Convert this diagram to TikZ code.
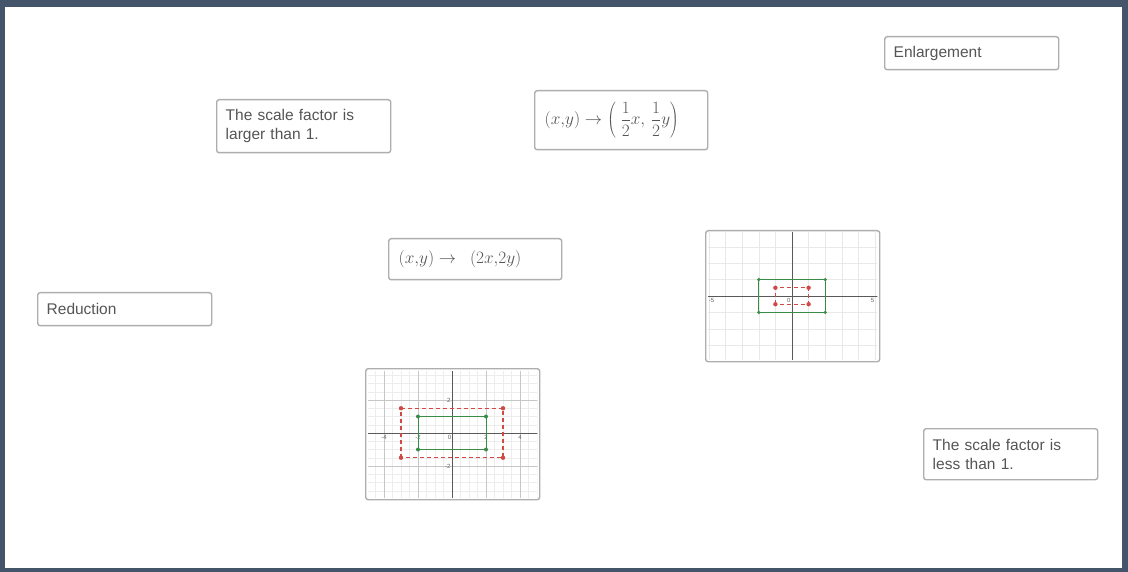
\documentclass[tikz,border=0pt]{standalone}
\usepackage[no-math]{fontspec}
\setmainfont{Liberation Sans}
\definecolor{frame}{HTML}{44546A}
\definecolor{bord}{HTML}{AEAEAE}
\definecolor{txt}{HTML}{555555}
\definecolor{dred}{HTML}{D04A45}
\definecolor{dgreen}{HTML}{388C46}
\begin{document}
\begin{tikzpicture}[x=1pt,y=-1pt,
  card/.style={draw=bord, line width=1.4pt, rounded corners=2.5pt, fill=white, anchor=north west},
  lblbox/.style={card, text=txt, font=\fontsize{15.5}{19}\selectfont, align=left, inner xsep=9pt, inner ysep=0pt, text width=156pt},
  mathbox/.style={card, text=txt, font=\fontsize{18.5}{22}\selectfont, align=left, inner xsep=10pt, inner ysep=0pt, text width=153pt},
  graphbox/.style={card, minimum width=174pt, minimum height=131pt, inner sep=0pt},
  minorgrid/.style={draw=black!7, line width=0.4pt},
  majorgrid/.style={draw=black!22, line width=0.5pt},
  axisline/.style={draw=black!65, line width=0.8pt},
  ticklbl/.style={text=black!60, font=\fontsize{6}{7}\selectfont, inner sep=0.5pt},
  redrect/.style={draw=dred, line width=1.2pt, dash pattern=on 4pt off 3pt},
  greenrect/.style={draw=dgreen, line width=1pt},
  rdot/.style={fill=dred},
  gdot/.style={fill=dgreen}]
% frame
\fill[frame] (0,0) rectangle (1128,572);
\fill[white] (5,7) rectangle (1122,568);
% text boxes
\node[lblbox, minimum height=33pt] (enl) at (884,36) {Enlargement};
\node[lblbox, minimum height=53pt] (larger) at (216,99) {The scale factor is\\larger than 1.};
\node[lblbox, minimum height=33pt] (red) at (37,292) {Reduction};
\node[lblbox, minimum height=51pt] (less) at (923,428) {The scale factor is\\less than 1.};
% formula boxes
\node[mathbox, minimum height=59pt] (fhalf) at (534,90) {$\displaystyle(x{,}y)\to\left(\;\frac{1}{2}x,\,\frac{1}{2}y\right)$};
\node[mathbox, minimum height=41pt] (fdouble) at (388,238) {$(x{,}y)\to\ \,(2x{,}2y)$};
% graph 1 (enlargement picture)
\node[graphbox] (g1) at (365,368) {};
\begin{scope}
\clip ([shift={(3pt,-3pt)}]g1.north west) rectangle ([shift={(-3pt,3pt)}]g1.south east);
\begin{scope}[shift={(452,433)}, x=17pt, y=16.5pt]
\draw[minorgrid] (-6,-6) grid[step=0.5] (6,6);
\draw[majorgrid] (-6,-6) grid[step=2] (6,6);
\draw[axisline] (-6,0) -- (6,0);
\draw[axisline] (0,-6) -- (0,6);
\node[ticklbl, anchor=north] (t1a) at (-4,-0.1) {-4};
\node[ticklbl, anchor=north] (t1b) at (-2,-0.1) {-2};
\node[ticklbl, anchor=north east] (t1c) at (0,-0.1) {0};
\node[ticklbl, anchor=north] (t1d) at (2,-0.1) {2};
\node[ticklbl, anchor=north] (t1e) at (4,-0.1) {4};
\node[ticklbl, anchor=east] (t1f) at (-0.05,2) {2};
\node[ticklbl, anchor=east] (t1g) at (-0.05,-2) {-2};
\draw[greenrect] (-2,-1) rectangle (2,1);
\draw[redrect] (-3,-1.5) rectangle (3,1.5);
\foreach \p in {(-3,-1.5),(3,-1.5),(3,1.5),(-3,1.5)} \fill[rdot] \p circle (2.2pt);
\foreach \p in {(-2,-1),(2,-1),(2,1),(-2,1)} \fill[gdot] \p circle (2pt);
\end{scope}
\end{scope}
% graph 2 (reduction picture)
\node[graphbox] (g2) at (705,230) {};
\begin{scope}
\clip ([shift={(3pt,-3pt)}]g2.north west) rectangle ([shift={(-3pt,3pt)}]g2.south east);
\begin{scope}[shift={(792,296)}, x=16.6pt, y=16.4pt]
\draw[minorgrid, draw=black!9] (-7,-6) grid[step=1] (7,6);
\draw[axisline] (-7,0) -- (7,0);
\draw[axisline] (0,-6) -- (0,6);
\node[ticklbl, anchor=north] (t2a) at (-4.85,-0.1) {-5};
\node[ticklbl, anchor=north east] (t2b) at (-0.05,-0.1) {0};
\node[ticklbl, anchor=north] (t2c) at (4.85,-0.1) {5};
\draw[greenrect] (-2,-1) rectangle (2,1);
\draw[redrect] (-1,-0.5) rectangle (1,0.5);
\foreach \p in {(-2,-1),(2,-1),(2,1),(-2,1)} \fill[gdot] \p circle (1.8pt);
\foreach \p in {(-1,-0.5),(1,-0.5),(1,0.5),(-1,0.5)} \fill[rdot] \p circle (2.2pt);
\end{scope}
\end{scope}
\end{tikzpicture}
\end{document}
